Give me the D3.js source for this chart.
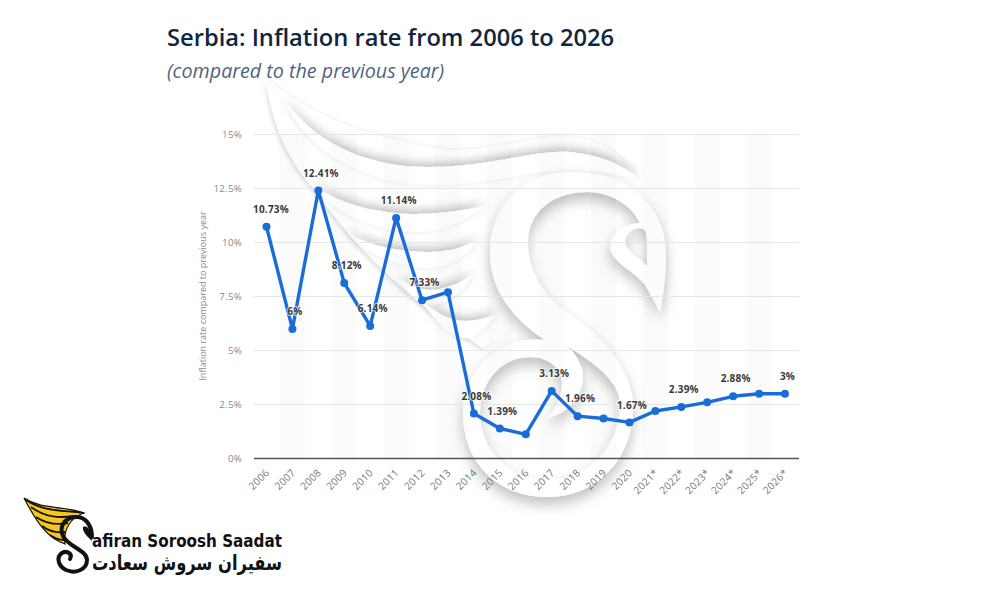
<!DOCTYPE html>
<html><head><meta charset="utf-8">
<script src="https://cdn.jsdelivr.net/npm/d3@7"></script>
<style>html,body{margin:0;padding:0;background:#fff}svg{display:block}</style></head>
<body><svg id="c" width="1000" height="600"></svg>
<script>
const years=["2006","2007","2008","2009","2010","2011","2012","2013","2014","2015","2016","2017","2018","2019","2020","2021*","2022*","2023*","2024*","2025*","2026*"];
const rates=[10.73,6,12.41,8.12,6.14,11.14,7.33,7.7,2.08,1.39,1.12,3.13,1.96,1.85,1.67,2.2,2.39,2.6,2.88,3,3];
const labelled=["2006","2007","2008","2009","2010","2011","2012","2014","2015","2017","2018","2020","2022*","2024*","2026*"];
const yTicks=[0,2.5,5,7.5,10,12.5,15];

const svg=d3.select("#c");
const defs=svg.append("defs");
function shadow(id,dx,dy,sd,op){
  const f=defs.append("filter").attr("id",id).attr("x","-30%").attr("y","-60%").attr("width","160%").attr("height","220%");
  f.append("feDropShadow").attr("dx",dx).attr("dy",dy).attr("stdDeviation",sd).attr("flood-color","#000").attr("flood-opacity",op);
}
shadow("sUp",0,-4,5,.24);
shadow("sWing",-2,2,2,.13);
shadow("sFaint",0,-1,1.5,.08);
shadow("sS",0,7,7,.26);

// decorative watermark
const wm=svg.append("g");
const topBand="M266,78 C300,105 345,135 450,150 C500,150 540,135 567,137 C600,138 625,155 638,180 C610,160 590,155 567,155 C530,155 490,165 450,165 C360,155 300,125 266,78Z";
wm.append("path").attr("d",topBand).attr("fill","#fff").attr("filter","url(#sFaint)");
const wingEdge="M266,78 C272,125 288,160 315,190 C350,240 400,295 483,348 L497,338 C420,295 365,240 330,190 C305,160 282,125 266,78Z";
wm.append("path").attr("d",wingEdge).attr("fill","#fff").attr("filter","url(#sWing)");
const feathers=[
 "M286,102 C320,150 380,168 430,167 C490,167 530,150 570,152 C600,155 625,165 638,180 C610,172 590,170 570,170 C530,170 490,185 430,185 C380,185 310,160 286,102Z",
 "M313,185 C340,205 380,214 417,214 C440,214 465,210 485,206 C465,222 440,232 417,232 C380,232 335,215 313,185Z",
 "M348,233 C365,245 400,252 430,252 C448,252 465,247 478,240 C465,258 445,268 430,268 C400,268 365,255 348,233Z",
 "M400,279 C410,285 420,290 430,290 C445,290 460,283 472,275 C462,295 445,305 430,305 C420,305 408,295 400,279Z",
 "M423,303 C440,315 450,320 465,321 C475,321 485,318 495,315 C485,330 475,338 465,338 C450,338 435,320 423,303Z"];
wm.selectAll("path.f").data(feathers).join("path").attr("class","f").attr("d",d=>d).attr("fill","#fff").attr("filter","url(#sUp)");
const swan="M660,312 C666,280 668,255 663,232 C652,192 615,172 572,172 C525,172 490,205 490,252 C490,290 512,318 545,340 C500,335 463,370 463,413 C463,465 500,497 547,497 C600,497 635,455 633,403 C630,365 600,335 570,315 C545,298 528,272 528,243 C528,210 555,192 587,192 C610,192 632,205 640,223 C620,225 610,235 610,247 C612,265 640,272 648,290 C652,298 657,305 660,312Z "+
 "M640,228 C628,228 625,238 625,243 C627,252 640,258 647,266 L647,240 C647,232 645,228 640,228Z "+
 "M480,413 C480,380 503,357 530,357 C548,357 562,368 562,382 C562,398 555,410 547,418 C565,415 583,398 583,377 C583,365 575,352 565,345 C600,365 620,385 620,403 C620,445 590,480 547,480 C510,480 480,450 480,413Z";
wm.append("path").attr("d",swan).attr("fill","#fff").attr("fill-rule","evenodd").attr("filter","url(#sS)");

// chart
const x=d3.scalePoint().domain(years).range([266.5,785]);
const y=d3.scaleLinear().domain([0,15]).range([458.5,134.5]);
const step=x.step();
const g=svg.append("g");
g.selectAll("rect.band").data(years.filter((d,i)=>i%2===1)).join("rect").attr("class","band")
 .attr("x",d=>x(d)-step/2).attr("width",step).attr("y",y(15)).attr("height",y(0)-y(15)).attr("fill","#000").attr("fill-opacity",.014);
const left=254,right=799;
const axisY=d3.axisLeft(y).tickValues(yTicks).tickSize(0).tickPadding(12).tickFormat(d=>d+"%");
const gy=g.append("g").attr("transform",`translate(${left},0)`).call(axisY);
gy.select(".domain").remove();
gy.selectAll("text").attr("fill","#8a8a8a").attr("letter-spacing",".2").style("font","9.8px 'Open Sans'");
g.selectAll("line.grid").data(yTicks.filter(d=>d>0)).join("line").attr("class","grid")
 .attr("x1",left).attr("x2",right).attr("y1",d=>y(d)).attr("y2",d=>y(d)).attr("stroke","#e6e6e6").attr("stroke-width",1);
g.append("line").attr("x1",left).attr("x2",right).attr("y1",y(0)).attr("y2",y(0)).attr("stroke","#555").attr("stroke-width",1.5);
const axisX=d3.axisBottom(x).tickSize(0).tickPadding(0);
const gx=g.append("g").attr("transform",`translate(0,${y(0)})`).call(axisX);
gx.select(".domain").remove();
gx.selectAll("text").attr("fill","#777").attr("letter-spacing",".2").style("font","10.2px 'Open Sans'").attr("text-anchor","end")
 .attr("dx",0).attr("dy",0).attr("transform","translate(3,15) rotate(-45)");
svg.append("text").attr("transform","translate(206,296) rotate(-90)").attr("text-anchor","middle")
 .attr("fill","#8a8a8a").style("font","9px 'Open Sans'").text("Inflation rate compared to previous year");

const line=d3.line().x((d,i)=>x(years[i])).y(d=>y(d));
g.append("path").datum(rates).attr("d",line).attr("fill","none").attr("stroke","#1a6cd8").attr("stroke-width",3.4).attr("stroke-linejoin","round");
g.selectAll("circle").data(rates).join("circle").attr("cx",(d,i)=>x(years[i])).attr("cy",d=>y(d)).attr("r",4).attr("fill","#1a6cd8");
const lab=years.map((yr,i)=>({yr,v:rates[i]})).filter(d=>labelled.includes(d.yr));
g.selectAll("text.lab").data(lab).join("text").attr("class","lab")
 .attr("x",d=>x(d.yr)+(d.yr==="2006"?4.5:2.5)).attr("y",d=>y(d.v)-13.8).attr("text-anchor","middle")
 .attr("fill","#3a3a3a").attr("stroke","#fff").attr("stroke-width",2).attr("paint-order","stroke").attr("stroke-opacity",.7)
 .style("font","700 10px 'Open Sans'").attr("letter-spacing",".2").text(d=>d.v+"%");

// titles
svg.append("text").attr("x",167).attr("y",46).attr("fill","#0f2640").style("font","600 23.7px 'Open Sans'").text("Serbia: Inflation rate from 2006 to 2026");
svg.append("text").attr("x",167).attr("y",78).attr("fill","#4d6480").style("font","italic 400 19.7px 'Open Sans'").text("(compared to the previous year)");

// logo
const logo=svg.append("g");
logo.append("path").attr("d","M24,498 C42,510 62,505 84,513 C72,517 63,528 65,544 C48,538 38,525 24,498Z").attr("fill","#f6c61b").attr("stroke","#111").attr("stroke-width",1.2);
const slits=["M26,500 C44,512 62,510 84,513","M31,507 C46,518 60,518 74,516","M36,517 C48,525 58,525 68,523","M42,526 C50,532 58,533 65,532","M50,535 C55,539 60,540 64,540"];
logo.selectAll("path.s").data(slits).join("path").attr("class","s").attr("d",d=>d).attr("fill","none").attr("stroke","#111").attr("stroke-width",1.8);
logo.append("path").attr("d","M92,537 C92,525 85,516 75,517 C64,518 59,527 63,536 C67,546 87,550 87,560 C87,570 75,574 66,570 C58,566 56,557 62,553 C67,550 73,554 70,559")
 .attr("fill","none").attr("stroke","#111").attr("stroke-width",4).attr("stroke-linecap","round");
logo.append("path").attr("d","M83,527 C88,525 91,530 92,541 C88,537 82,532 83,527Z").attr("fill","#111");
logo.append("text").attr("x",92).attr("y",547).attr("textLength",190).attr("lengthAdjust","spacingAndGlyphs").attr("fill","#111").style("font","700 18px 'DejaVu Sans'").text("afiran Soroosh Saadat");
logo.append("text").attr("x",282).attr("y",570).attr("fill","#111").attr("direction","rtl").attr("text-anchor","start").style("font","700 21px 'DejaVu Sans'").attr("textLength",190).attr("lengthAdjust","spacingAndGlyphs").text("سفیران سروش سعادت");
</script></body></html>
